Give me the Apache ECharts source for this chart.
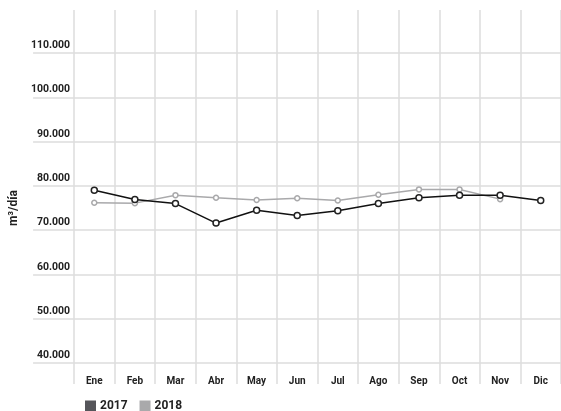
<!DOCTYPE html>
<html>
<head>
<meta charset="utf-8">
<script src="https://cdn.jsdelivr.net/npm/echarts@6/dist/echarts.min.js"></script>
<style>
  html, body { margin: 0; padding: 0; background: #fff; }
  #chart { width: 561px; height: 411px; }
</style>
</head>
<body>
<div id="chart"></div>
<script>
// meses
const months = ['Ene', 'Feb', 'Mar', 'Abr', 'May', 'Jun', 'Jul', 'Ago', 'Sep', 'Oct', 'Nov', 'Dic']
// m3/dia por año
const values2017 = [79000, 76900, 76000, 71600, 74500, 73300, 74400, 76000, 77300, 77900, 77900, 76700]
const values2018 = [76200, 76100, 77900, 77300, 76800, 77200, 76700, 78000, 79200, 79200, 77000, null]
const yMin = 40000
const yMax = 110000
const yStep = 10000

const font = 'Roboto'
let myChart = echarts.init(document.getElementById('chart'))
let option = {
  backgroundColor: '#fff',
  animation: false,
  textStyle: { fontFamily: font },
  legend: {
    left: 85,
    top: 400,
    padding: 0,
    itemWidth: 11,
    itemHeight: 11,
    itemGap: 12,
    icon: 'rect',
    textStyle: { fontFamily: font, fontWeight: 'bold', fontSize: 12, color: '#222', padding: [0, 0, 0, -1] },
    data: [
      { name: '2017', itemStyle: { color: '#55555a', borderWidth: 0 } },
      { name: '2018', itemStyle: { color: '#a9a9ab', borderWidth: 0 } }
    ]
  },
  grid: [
    // horizontal lines + y labels
    { left: 25, right: 0, top: 53, bottom: 48 },
    // vertical lines + month labels
    { left: 74, right: 0, top: 10, bottom: 27 },
    // data
    { left: 74, right: 0, top: 53, bottom: 48 }
  ],
  xAxis: [
    { gridIndex: 0, type: 'category', data: months, show: false },
    {
      gridIndex: 1,
      type: 'category',
      data: months,
      axisLine: { show: false },
      axisTick: { show: false },
      splitLine: { show: true, lineStyle: { color: '#dcdcdc', width: 1.5 } },
      axisLabel: {
        inside: true,
        margin: -2,
        fontFamily: font,
        fontWeight: 'bold',
        fontSize: 10,
        color: '#222'
      }
    },
    { gridIndex: 2, type: 'category', data: months, show: false }
  ],
  yAxis: [
    {
      gridIndex: 0,
      type: 'value',
      min: yMin,
      max: yMax,
      interval: yStep,
      name: 'm³/día',
      nameLocation: 'middle',
      nameGap: 10,
      nameTextStyle: { fontFamily: font, fontWeight: 'bold', fontSize: 12, color: '#222' },
      axisLine: { show: false },
      axisTick: { show: false },
      splitLine: { lineStyle: { color: '#dcdcdc', width: 1.5 } },
      axisLabel: {
        inside: true,
        margin: 37,
        align: 'right',
        verticalAlign: 'bottom',
        padding: [0, 0, 2, 0],
        fontFamily: font,
        fontWeight: 'bold',
        fontSize: 10.5,
        color: '#222',
        formatter: v => v.toLocaleString('de-DE')
      }
    },
    { gridIndex: 1, type: 'value', show: false, splitLine: { show: false } },
    { gridIndex: 2, type: 'value', min: yMin, max: yMax, interval: yStep, show: false, splitLine: { show: false } }
  ],
  series: [
    {
      name: '2018',
      type: 'line',
      xAxisIndex: 2,
      yAxisIndex: 2,
      data: values2018,
      symbol: 'circle',
      symbolSize: 5,
      showAllSymbol: true,
      lineStyle: { color: '#a9a9ab', width: 1.5 },
      itemStyle: { color: '#fff', borderColor: '#a9a9ab', borderWidth: 1.5 },
      z: 3
    },
    {
      name: '2017',
      type: 'line',
      xAxisIndex: 2,
      yAxisIndex: 2,
      data: values2017,
      symbol: 'circle',
      symbolSize: 6,
      showAllSymbol: true,
      lineStyle: { color: '#111', width: 1.5 },
      itemStyle: { color: '#fff', borderColor: '#222', borderWidth: 1.5 },
      z: 4
    }
  ]
}
myChart.setOption(option)
</script>
</body>
</html>
